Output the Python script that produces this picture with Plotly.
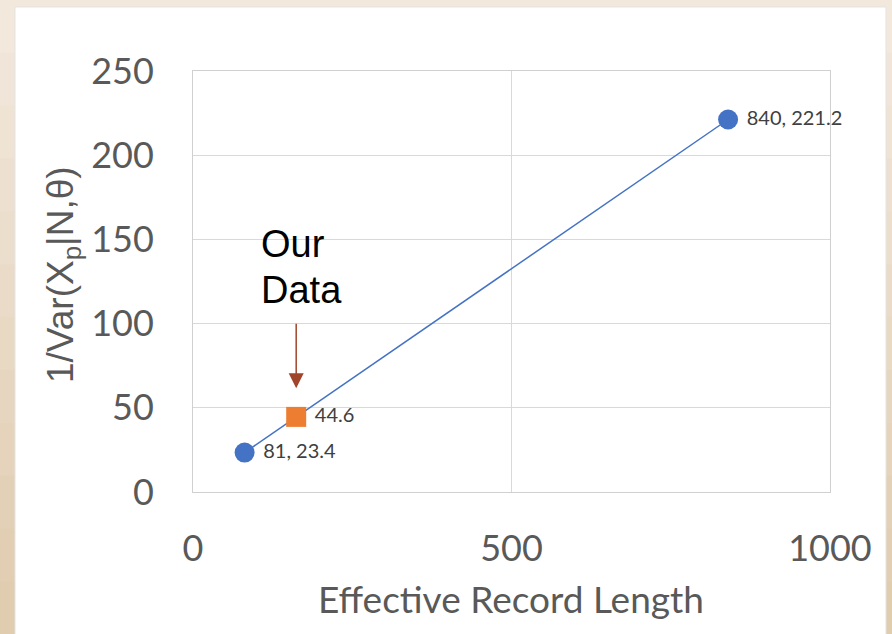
import plotly.graph_objects as go

# ---- data ----
series_x = [81, 840]
series_y = [23.4, 221.2]
series_labels = ["81, 23.4", "840, 221.2"]
our_x = [162]
our_y = [44.6]
our_labels = ["44.6"]
x_ticks = [0, 500, 1000]
y_ticks = [0, 50, 100, 150, 200, 250]

W, H = 892, 634
L, R, T, B = 193, 62, 71, 142
PW, PH = W - L - R, H - T - B


def px_x(px):
    return (px - L) / PW


def px_y(py):
    return (H - B - py) / PH


fig = go.Figure()

fig.add_trace(go.Scatter(
    x=series_x, y=series_y, mode="lines+markers+text",
    line=dict(color="#4472C4", width=1.5),
    marker=dict(color="#4472C4", size=20, symbol="circle"),
    text=[" " + t for t in series_labels], textposition="middle right",
    textfont=dict(family="Lato", size=20, color="#404040"),
    cliponaxis=False, showlegend=False, hoverinfo="skip"))

fig.add_trace(go.Scatter(
    x=our_x, y=our_y, mode="markers+text",
    marker=dict(color="#ED7D31", size=20, symbol="square"),
    text=[" " + t for t in our_labels], textposition="middle right",
    textfont=dict(family="Lato", size=20, color="#404040"),
    cliponaxis=False, showlegend=False, hoverinfo="skip"))

shapes = []
# beige gradient background bands
n = 12
c0 = (242, 232, 220)
c1 = (224, 204, 175)
for i in range(n):
    f = i / (n - 1)
    col = tuple(round(c0[k] + (c1[k] - c0[k]) * f) for k in range(3))
    shapes.append(dict(type="rect", xref="paper", yref="paper",
                       x0=px_x(0), x1=px_x(W), y0=px_y(H * (i + 1) / n + 1), y1=px_y(H * i / n),
                       fillcolor="rgb(%d,%d,%d)" % col, line=dict(width=0), layer="below"))
# white panel
shapes.append(dict(type="rect", xref="paper", yref="paper",
                   x0=px_x(15), x1=px_x(886), y0=px_y(H + 5), y1=px_y(7),
                   fillcolor="white", line=dict(color="#E3E3E3", width=1), layer="below"))

annotations = [
    dict(text="1/Var(X<sub>p</sub>|N,θ)", xref="paper", yref="paper",
         x=px_x(63), y=px_y(275), textangle=-90, showarrow=False,
         font=dict(family="Liberation Sans", size=37, color="#595959"),
         xanchor="center", yanchor="middle"),
    dict(text="Effective Record Length", xref="paper", yref="paper",
         x=px_x(511), y=px_y(598), showarrow=False,
         font=dict(family="Lato", size=37, color="#595959"),
         xanchor="center", yanchor="middle"),
    dict(text="Our", xref="paper", yref="paper",
         x=px_x(259), y=px_y(244), showarrow=False, align="left",
         font=dict(family="Liberation Sans", size=38, color="#000000"),
         xanchor="left", yanchor="middle"),
    dict(text="Data", xref="paper", yref="paper",
         x=px_x(259), y=px_y(290), showarrow=False, align="left",
         font=dict(family="Liberation Sans", size=38, color="#000000"),
         xanchor="left", yanchor="middle"),
    dict(text="", x=our_x[0], y=our_y[0] + 17, xref="x", yref="y",
         showarrow=True, ax=0, ay=-66, arrowhead=2, arrowsize=2,
         arrowwidth=1.5, arrowcolor="#A0452B"),
]

fig.update_layout(
    width=W, height=H,
    margin=dict(l=L, r=R, t=T, b=B),
    paper_bgcolor="white", plot_bgcolor="white",
    shapes=shapes, annotations=annotations,
    xaxis=dict(range=[0, 1000], tickvals=x_ticks, showgrid=True,
               gridcolor="#D9D9D9", gridwidth=1, zeroline=False,
               showline=True, linecolor="#D0D0D0", mirror=True,
               ticks="", ticklabelstandoff=25,
               tickfont=dict(family="Lato", size=36, color="#595959")),
    yaxis=dict(range=[0, 250], tickvals=y_ticks, showgrid=True,
               gridcolor="#D9D9D9", gridwidth=1, zeroline=False,
               showline=True, linecolor="#D0D0D0", mirror=True,
               ticks="", ticklabelstandoff=31,
               tickfont=dict(family="Lato", size=36, color="#595959")),
)

fig.write_html("out.html", config={"displayModeBar": False},
               post_script="document.body.style.margin='0px';")
